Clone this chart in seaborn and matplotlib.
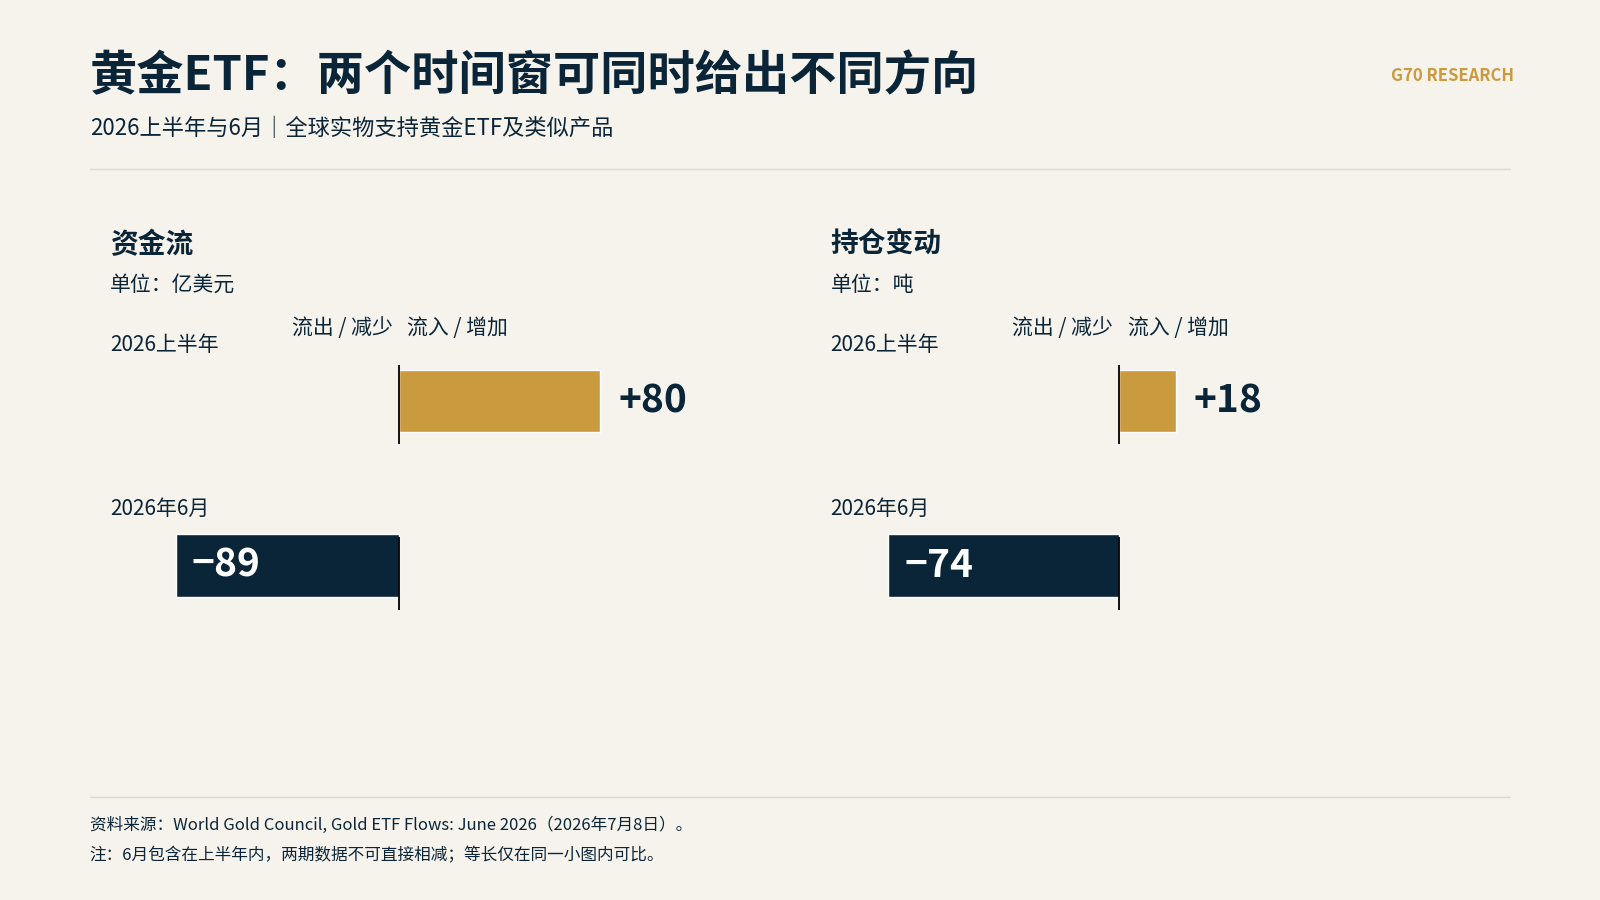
import matplotlib
matplotlib.use('Agg')
import matplotlib.pyplot as plt
import seaborn as sns
import pandas as pd

periods = ['2026上半年', '2026年6月']
flow_values = [80, -89]      # 亿美元
holding_values = [18, -74]   # 吨
bar_colors = ['#C99A3E', '#0B2538']

BG = '#F6F3EC'
NAVY = '#0B2538'
GOLD = '#C99A3E'
W, H = 1568, 882

sns.set_theme(style='white')
plt.rcParams['font.family'] = ['Noto Sans CJK SC', 'DejaVu Sans']

fig = plt.figure(figsize=(16, 9), dpi=100, facecolor=BG)


def fx(x):
    return x / W


def fy(y):
    return 1 - y / H


def txt(x, y, s, **kw):
    kw.setdefault('color', NAVY)
    kw.setdefault('va', 'center')
    fig.text(fx(x), fy(y), s, **kw)


# header
txt(88, 75, '黄金ETF：两个时间窗可同时给出不同方向', fontsize=34, fontweight='bold')
txt(88, 126, '2026上半年与6月｜全球实物支持黄金ETF及类似产品', fontsize=16)
txt(1484, 74, 'G70 RESEARCH', fontsize=12, color=GOLD, ha='right', fontweight='bold')
fig.add_artist(plt.Line2D([fx(88), fx(1480)], [fy(166)] * 2, color='#DDD9D0', lw=1))
fig.add_artist(plt.Line2D([fx(88), fx(1480)], [fy(781)] * 2, color='#DDD9D0', lw=1))

# footer
txt(88, 809, '资料来源：World Gold Council, Gold ETF Flows: June 2026（2026年7月8日）。', fontsize=12)
txt(88, 839, '注：6月包含在上半年内，两期数据不可直接相减；等长仅在同一小图内可比。', fontsize=12)

panels = [
    ('资金流', '单位：亿美元', flow_values, 108, 760, 391, 2.46),
    ('持仓变动', '单位：吨', holding_values, 814, 1480, 1097, 3.06),
]

ytop, ybot = 300, 620
for title, unit, vals, left, right, zero, scale in panels:
    txt(left, 240, title, fontsize=20, fontweight='bold')
    txt(left, 279, unit, fontsize=15)
    txt(zero - 6, 321, '流出 / 减少', fontsize=15, ha='right')
    txt(zero + 8, 321, '流入 / 增加', fontsize=15, ha='left')
    txt(left, 338, periods[0], fontsize=15)
    txt(left, 499, periods[1], fontsize=15)

    ax = fig.add_axes([fx(left), fy(ybot), fx(right - left), (ybot - ytop) / H])
    df = pd.DataFrame({'period': periods, 'value': vals})
    sns.barplot(data=df, x='value', y='period', hue='period', palette=bar_colors,
                orient='h', width=0.38, legend=False, ax=ax, saturation=1)
    ax.set_xlim(-(zero - left) / scale, (right - zero) / scale)
    ax.set_ylim(1 + (ybot - 554) / 161, -(393 - ytop) / 161)
    ax.set_facecolor(BG)
    ax.axis('off')
    ax.vlines(0, -0.22, 0.26, color='black', lw=1.3)
    ax.vlines(0, 0.83, 1.27, color='black', lw=1.3)
    for i, v in enumerate(vals):
        if v > 0:
            ax.text(v + 18 / scale, i, f'+{v}', color=NAVY, fontsize=28,
                    fontweight='bold', va='center', ha='left')
        else:
            ax.text(v + 16 / scale, i, f'−{abs(v)}', color='white', fontsize=28,
                    fontweight='bold', va='center', ha='left')

fig.savefig('out.png', dpi=100, facecolor=BG)
